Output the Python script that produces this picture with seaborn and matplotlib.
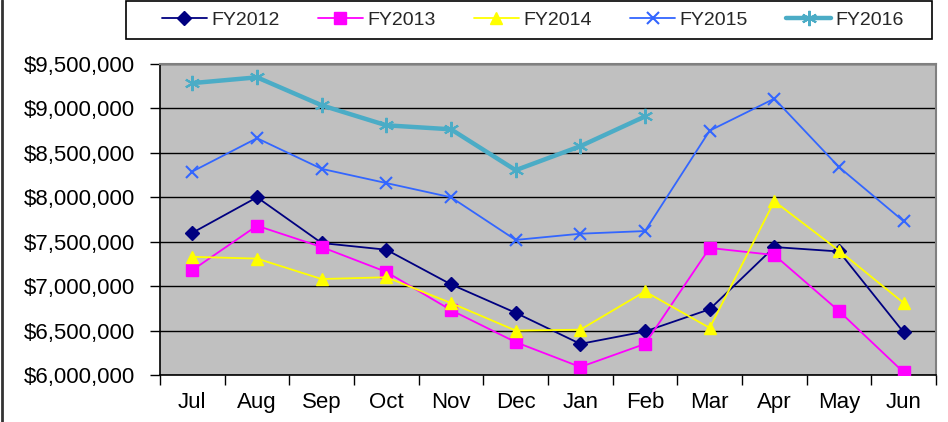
"""
Monthly totals by fiscal year, FY2012 - FY2016.
"""

import numpy as np
import pandas as pd
import seaborn as sns
import matplotlib.pyplot as plt
from matplotlib.lines import Line2D
from matplotlib.patches import Rectangle
from matplotlib.ticker import FuncFormatter, MultipleLocator

MONTHS = ["Jul", "Aug", "Sep", "Oct", "Nov", "Dec", "Jan", "Feb", "Mar", "Apr", "May", "Jun"]

FY2012 = [7600000, 8000000, 7485000, 7410000, 7020000, 6700000, 6350000, 6490000, 6740000, 7440000, 7390000, 6480000]
FY2013 = [7180000, 7680000, 7440000, 7160000, 6730000, 6370000, 6090000, 6350000, 7430000, 7350000, 6720000, 6030000]
FY2014 = [7330000, 7310000, 7080000, 7100000, 6810000, 6500000, 6510000, 6940000, 6530000, 7955000, 7400000, 6810000]
FY2015 = [8290000, 8665000, 8320000, 8160000, 8000000, 7520000, 7590000, 7620000, 8750000, 9110000, 8340000, 7730000]
FY2016 = [9285000, 9350000, 9035000, 8810000, 8765000, 8305000, 8575000, 8910000]

SERIES = [
    ("FY2012", FY2012, "#000080", "D", 7, 1.3),
    ("FY2013", FY2013, "#FF00FF", "s", 8, 1.3),
    ("FY2014", FY2014, "#FFFF00", "^", 9, 1.3),
    ("FY2015", FY2015, "#3366FF", "x", 8, 1.3),
    ("FY2016", FY2016, "#4BACC6", (6, 2, 0), 11, 3.2),
]

sns.set_theme(style="white")
plt.rcParams["font.family"] = ["Liberation Sans", "DejaVu Sans"]

fig = plt.figure(figsize=(9.48, 4.22), dpi=100)
ax = fig.add_axes([160 / 948, 1 - 375 / 422, 776 / 948, 311 / 422])
ax.set_facecolor("#C0C0C0")

handles = []
for name, values, color, marker, msize, lw in SERIES:
    mew = 1.5 if marker in ("x", (6, 2, 0)) else 1
    df = pd.DataFrame({"pos": np.arange(len(values)), "value": values})
    sns.lineplot(data=df, x="pos", y="value", ax=ax, color=color, linewidth=lw,
                 marker=marker, markersize=msize, markeredgecolor=color,
                 markerfacecolor=color, markeredgewidth=mew,
                 legend=False, zorder=3)
    handles.append(Line2D([], [], color=color, linewidth=lw, marker=marker,
                          markersize=msize, markeredgecolor=color, markerfacecolor=color,
                          markeredgewidth=mew, label=name))

ax.set_xlim(-0.5, 11.5)
ax.set_ylim(6000000, 9500000)
ax.yaxis.set_major_locator(MultipleLocator(500000))
ax.yaxis.set_major_formatter(FuncFormatter(lambda v, _: f"${v:,.0f}"))
ax.grid(axis="y", color="black", linewidth=1)
ax.set_axisbelow(True)

ax.set_xticks(np.arange(12))
ax.set_xticklabels(MONTHS)
ax.set_xticks(np.arange(-0.5, 12, 1), minor=True)
ax.tick_params(axis="x", which="major", length=0, pad=12, labelsize=16, colors="black")
ax.tick_params(axis="x", which="minor", length=7, width=1, color="black", direction="out", bottom=True)
ax.tick_params(axis="y", which="major", length=7, width=1, color="black", direction="out",
               left=True, pad=11, labelsize=16, labelcolor="black")
ax.set_xlabel("")
ax.set_ylabel("")

for side in ("left", "bottom"):
    ax.spines[side].set_color("black")
    ax.spines[side].set_linewidth(1.2)
for side in ("top", "right"):
    ax.spines[side].set_color("#808080")
    ax.spines[side].set_linewidth(1.5)

# legend box drawn separately so its size matches the original frame
fig.add_artist(Rectangle((126 / 948, 1 - 39 / 422), 806 / 948, 38 / 422,
                         transform=fig.transFigure, facecolor="white",
                         edgecolor="black", linewidth=1.2))
fig.legend(handles=handles, loc="center", ncol=5,
           bbox_to_anchor=(533 / 948, 1 - 20 / 422),
           fontsize=14, frameon=False, borderpad=0,
           handlelength=2.3, handletextpad=0.25, columnspacing=1.96,
           borderaxespad=0)

fig.add_artist(Line2D([0.002, 0.002], [0, 1], transform=fig.transFigure, color="#333333", linewidth=2))

fig.savefig("out.png", dpi=100)
